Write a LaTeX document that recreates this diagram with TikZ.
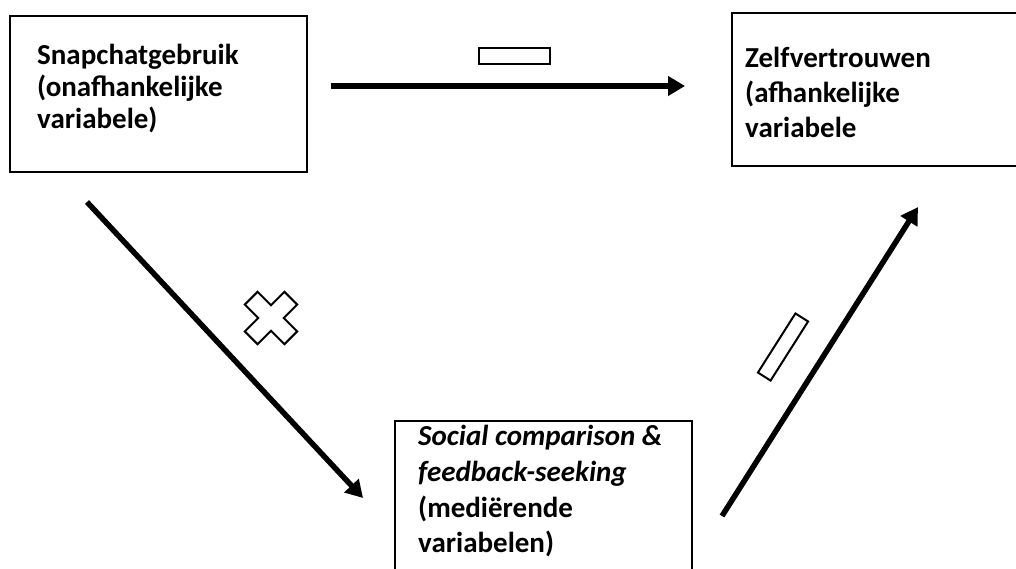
\documentclass[tikz,border=0pt]{standalone}
\usepackage{fontspec}
\setmainfont{Carlito}
\usetikzlibrary{arrows.meta}
\tikzset{
  box/.style={draw, line width=2pt, rectangle, inner sep=0pt},
  txt/.style={anchor=base west, inner sep=0pt, font=\fontsize{29}{34}\selectfont\bfseries},
  sign/.style={draw, line width=2pt, fill=white},
  conn/.style={line width=6pt, -{Triangle[length=17pt,width=19pt]}},
  diag/.style={line width=5.5pt, -{Triangle[length=17pt,width=19pt]}}
}
\begin{document}
\begin{tikzpicture}[x=1pt,y=-1pt]
\useasboundingbox (0,0) rectangle (1016,569);
\clip (0,0) rectangle (1016,569);
\fill[white] (0,0) rectangle (1016,569);
% boxes
\node[box, minimum width=297pt, minimum height=156pt] (b1) at (158.5,94) {};
\node[box, minimum width=300pt, minimum height=153pt, anchor=north west] (b2) at (731,12) {};
\node[box, minimum width=297pt, minimum height=180pt, anchor=north west] (b3) at (394,420) {};
% texts
\node[txt] (t11) at (37,65) {Snapchatgebruik};
\node[txt] (t12) at (37,97) {(onafhankelijke};
\node[txt] (t13) at (37,129) {variabele)};
\node[txt] (t21) at (745,68) {Zelfvertrouwen};
\node[txt] (t22) at (745,103) {(afhankelijke};
\node[txt] (t23) at (745,138) {variabele};
\node[txt] (t31) at (418,445) {\itshape Social comparison \&};
\node[txt] (t32) at (418,481) {\itshape feedback-seeking};
\node[txt] (t33) at (418,517) {(mediërende};
\node[txt] (t34) at (418,552) {variabelen)};
% arrow endpoints
\coordinate (h1) at (331,86);
\coordinate (h2) at (685,86);
\coordinate (d1) at (87,202);
\coordinate (d2) at (363,498);
\coordinate (u1) at (722,516);
\coordinate (u2) at (918,207);
\draw[conn] (h1) -- (h2);
\draw[diag] (d1) -- (d2);
\draw[diag] (u1) -- (u2);
% signs
\node[sign, minimum width=71pt, minimum height=16pt, inner sep=0pt] (m1) at (514.5,56) {};
\node[sign, minimum width=70pt, minimum height=15pt, inner sep=0pt, rotate=57.6] (m2) at (783,347) {};
\begin{scope}[shift={(271,318)}, rotate=45]
\draw[sign] (-28,-9) -- (-9,-9) -- (-9,-28) -- (9,-28) -- (9,-9) -- (28,-9) -- (28,9) -- (9,9) -- (9,28) -- (-9,28) -- (-9,9) -- (-28,9) -- cycle;
\end{scope}
\end{tikzpicture}
\end{document}
